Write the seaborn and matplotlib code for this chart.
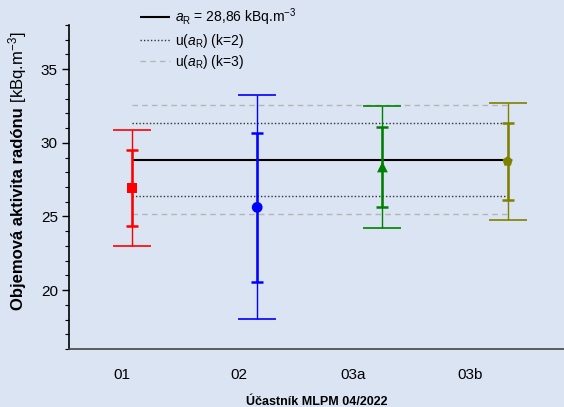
import numpy as np
import pandas as pd
import matplotlib
matplotlib.use("Agg")
import matplotlib.pyplot as plt
import seaborn as sns

sns.set_theme(style="white")
plt.rcParams["font.family"] = ["Liberation Sans", "DejaVu Sans"]
plt.rcParams["mathtext.fontset"] = "custom"
plt.rcParams["mathtext.it"] = "Liberation Sans:italic"
plt.rcParams["mathtext.rm"] = "Liberation Sans"
plt.rcParams["text.color"] = "black"
plt.rcParams["axes.labelcolor"] = "black"
plt.rcParams["xtick.color"] = "black"
plt.rcParams["ytick.color"] = "black"

# -- data -- #
participants = ["01", "02", "03a", "03b"]
values = [26.93, 25.62, 28.36, 28.74]
u_k2 = [2.60, 5.07, 2.74, 2.63]      # inner error bars
u_k3 = [3.92, 7.61, 4.13, 3.96]      # outer error bars
colors = ["#ff0000", "#0000ff", "#008000", "#808000"]
markers = ["s", "o", "^", "p"]

a_ref = 28.86
a_k2 = 2.47
a_k3 = 3.70

# tick labels in the original are offset from the points
label_pos = [-0.08, 0.85, 1.77, 2.70]

df = pd.DataFrame({"x": np.arange(len(participants)), "y": values,
                   "u2": u_k2, "u3": u_k3, "p": participants})

fig = plt.figure(figsize=(5.64, 4.07), dpi=100)
fig.patch.set_facecolor("#dae4f3")
ax = fig.add_axes([0.1223, 0.1425, 0.8777, 0.796])
ax.set_facecolor("none")

# reference value and uncertainty bands
ax.hlines(a_ref, 0, 3, color="black", lw=1.5, zorder=2,
          label=r"$a_\mathrm{R}$ = 28,86 kBq.m$^{-3}$")
ax.hlines([a_ref + a_k2, a_ref - a_k2], 0, 3, color="#333333", lw=1,
          linestyles=(0, (1, 1.5)), zorder=2, label=r"u($a_\mathrm{R}$) (k=2)")
ax.hlines([a_ref + a_k3, a_ref - a_k3], 0, 3, color="#b5b5b5", lw=1,
          linestyles=(0, (4, 3)), zorder=2, label=r"u($a_\mathrm{R}$) (k=3)")

for i, row in df.iterrows():
    ax.errorbar(row["x"], row["y"], yerr=row["u3"], fmt="none",
                ecolor=colors[i], elinewidth=1, capsize=14, capthick=1.2, zorder=3)
    ax.errorbar(row["x"], row["y"], yerr=row["u2"], fmt="none",
                ecolor=colors[i], elinewidth=1.8, capsize=4.5, capthick=1.8, zorder=4)

sns.scatterplot(data=df, x="x", y="y", hue="p", style="p",
                palette=colors, markers=markers, s=60, edgecolor="none",
                legend=False, zorder=5, ax=ax)

leg = ax.legend(loc="upper left", bbox_to_anchor=(0.119, 1.095), frameon=False,
                fontsize=10, handlelength=2.1, handletextpad=0.4, labelspacing=0.25)

ax.set_xlim(-0.503, 3.45)
ax.set_ylim(16, 38)
ax.set_xticks(label_pos)
ax.set_xticklabels(participants, fontsize=11)
ax.set_yticks([20, 25, 30, 35])
ax.set_yticks(np.arange(16, 39, 1), minor=True)
ax.tick_params(axis="y", which="major", length=5, width=1, direction="out",
               left=True, labelsize=11, pad=3)
ax.tick_params(axis="y", which="minor", length=3, width=0.8, direction="out",
               left=True)
ax.tick_params(axis="x", length=0, pad=14)

ax.set_xlabel("Účastník MLPM 04/2022", fontsize=9, fontweight="bold", labelpad=10)
ax.set_ylabel("")

# y label: bold name followed by regular unit, sharing one baseline
base_x = 23 / 564
ylab = fig.text(base_x, (407 - 310) / 407, "Objemová aktivita radónu",
                rotation=90, rotation_mode="anchor", ha="left", va="baseline",
                fontsize=12, fontweight="bold")
fig.canvas.draw()
bb = ylab.get_window_extent().transformed(fig.transFigure.inverted())
fig.text(base_x, bb.y1, " [kBq.m$^{-3}$]", rotation=90, rotation_mode="anchor",
         ha="left", va="baseline", fontsize=12)

ax.spines.right.set_visible(False)
ax.spines.top.set_visible(False)
ax.spines.left.set_color("black")
ax.spines.bottom.set_color("#444444")
ax.spines.left.set_linewidth(1.2)
ax.spines.bottom.set_linewidth(1.2)

fig.savefig("out.png", dpi=100, facecolor=fig.get_facecolor())
